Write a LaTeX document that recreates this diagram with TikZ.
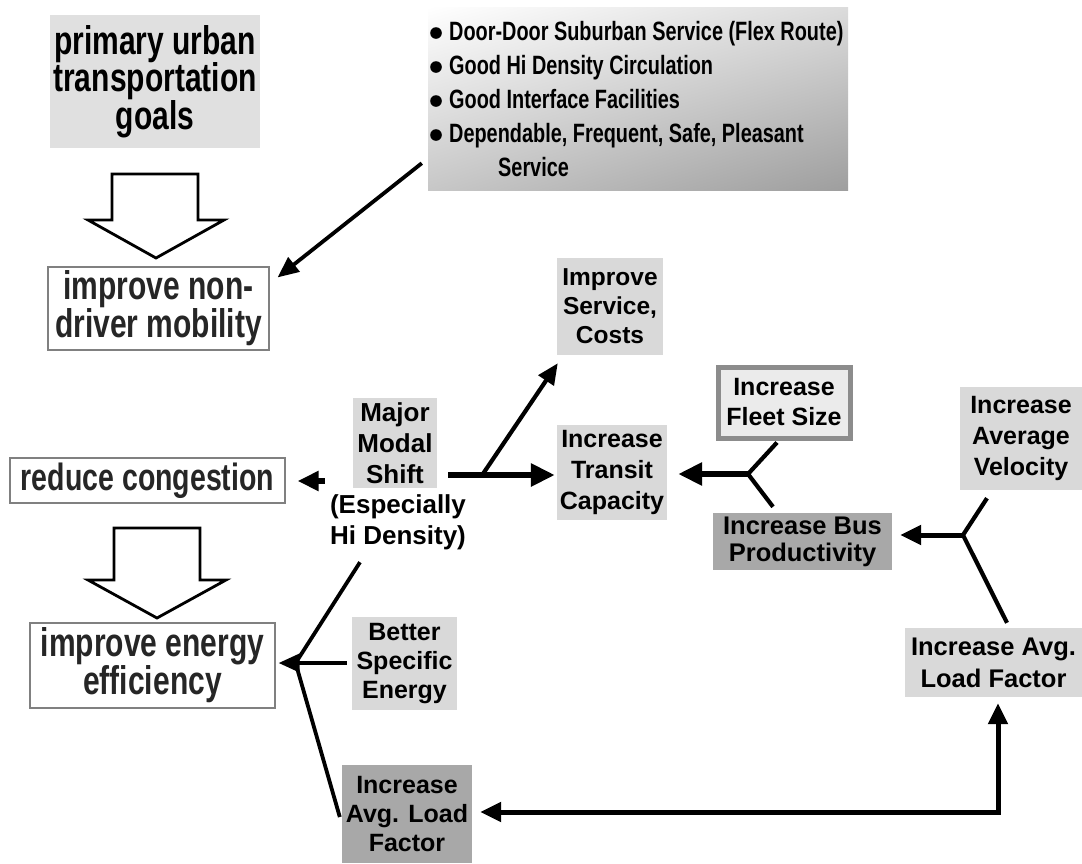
\documentclass[tikz,border=0pt]{standalone}
\usepackage{fontspec}
\setmainfont{Liberation Sans}
\newfontfamily\fcond{Liberation Sans}[FakeStretch=0.75]
\usetikzlibrary{arrows.meta,calc,shadings}
\newcommand\bulspace{\hspace*{22pt}}
\begin{document}
\begin{tikzpicture}[x=1pt,y=-1pt,
  box/.style={rectangle, inner sep=0pt, align=center, text=black,
    font=\bfseries\fontsize{25}{30}\selectfont},
  light/.style={box, fill=black!15},
  dark/.style={box, fill=black!34},
  plain/.style={box, draw=black!50, line width=1.2pt, fill=white,
    font=\fcond\bfseries\fontsize{40}{38}\selectfont, text=black!85},
  hollow/.style={draw=black, line width=2.8pt, line join=miter, fill=white},
  bulletdot/.style={fill=black},
  thickarrow/.style={line width=6.5pt, -{Triangle[length=24pt,width=22pt]}},
  midarrow/.style={line width=5pt, -{Triangle[length=21pt,width=19pt]}},
  thinarrow/.style={line width=3.8pt, -{Triangle[length=21pt,width=18pt]}},
  thinline/.style={line width=3.8pt},
  armline/.style={line width=4.2pt},
  fbarrow/.style={line width=5pt, {Triangle[length=21pt,width=19pt]}-{Triangle[length=21pt,width=19pt]}}
]
\useasboundingbox (0,0) rectangle (1082,863);
\fill[white] (0,0) rectangle (1082,863);

% top-left goals
\node[box, fill=black!12, minimum width=210pt, minimum height=133pt,
  font=\fcond\bfseries\fontsize{40}{37.5}\selectfont] (goals) at (155,81.5)
  {primary urban\\transportation\\goals};

% bullet list box
\shade[upper left=white, upper right=black!14, lower left=black!22, lower right=black!38]
  (428,7) rectangle (848,190);
\node[rectangle, inner sep=0pt, minimum width=420pt, minimum height=183pt] (bulletbox) at (638,98.5) {};
\node[anchor=west, inner sep=0pt, align=left,
  font=\fcond\bfseries\fontsize{26.5}{34}\selectfont] (bullettext) at (427,99)
  {\bulspace Door-Door Suburban Service (Flex Route)\\
   \bulspace Good Hi Density Circulation\\
   \bulspace Good Interface Facilities\\
   \bulspace Dependable, Frequent, Safe, Pleasant\\
   \hspace*{71pt}Service};
\foreach \yy in {33,67,101,135} \fill[bulletdot] (436,\yy) circle (5.8pt);

% improve non-driver mobility
\node[plain, minimum width=221pt, minimum height=83pt] (nondriver) at (158.5,308.5)
  {improve non-\\driver mobility};

% hollow arrow 1
\draw[hollow] (112,174) -- (198,174) -- (198,220) -- (224,220) -- (156,258)
  -- (88,220) -- (112,220) -- cycle;

% arrow from bullet box
\draw[thinarrow] ($(bulletbox.south west)+(-6,-27)$) -- ($(nondriver.north east)+(8,11)$);

% middle boxes
\node[light, minimum width=106pt, minimum height=97pt, font=\bfseries\fontsize{24.5}{29}\selectfont] (svc) at (610,306.5)
  {Improve\\Service,\\Costs};
\node[light, minimum width=84pt, minimum height=90pt, font=\bfseries\fontsize{26}{31}\selectfont] (major) at (395,443)
  {Major\\Modal\\Shift};
\node[box, font=\bfseries\fontsize{26}{31}\selectfont] (majorsub) at (398,522)
  {(Especially\\Hi Density)};
\node[light, minimum width=110pt, minimum height=95pt, font=\bfseries\fontsize{25}{31}\selectfont] (transit) at (612,472.5)
  {Increase\\Transit\\Capacity};
\node[box, fill=black!8, draw=black!45, line width=5pt, minimum width=132pt, minimum height=71pt,
  font=\bfseries\fontsize{25}{30}\selectfont] (fleet) at (784,402.5)
  {Increase\\Fleet Size};
\node[dark, minimum width=179pt, minimum height=57pt, font=\bfseries\fontsize{25.5}{27}\selectfont] (bus) at (802.5,541.5)
  {Increase Bus\\Productivity};
\node[light, minimum width=122pt, minimum height=103pt, font=\bfseries\fontsize{25}{31}\selectfont] (vel) at (1021,438.5)
  {Increase\\Average\\Velocity};
\node[light, minimum width=177pt, minimum height=69pt, font=\bfseries\fontsize{25.5}{32}\selectfont] (loadR) at (993.5,662.5)
  {Increase Avg.\\Load Factor};

% left column
\node[plain, minimum width=275pt, minimum height=45pt, font=\fcond\bfseries\fontsize{38}{38}\selectfont] (reduce) at (147.5,480.5)
  {reduce congestion};
\draw[hollow] (114,528) -- (200,528) -- (200,580) -- (226,580) -- (157,618)
  -- (88,580) -- (114,580) -- cycle;
\node[plain, minimum width=245pt, minimum height=85pt] (energy) at (152.5,665.5)
  {improve energy\\efficiency};

\node[light, minimum width=105pt, minimum height=93pt, font=\bfseries\fontsize{25}{29}\selectfont] (better) at (404.5,663.5)
  {Better\\Specific\\Energy};
\node[dark, minimum width=130pt, minimum height=98pt, font=\bfseries\fontsize{25}{29}\selectfont] (loadL) at (407,814)
  {Increase\\Avg. Load\\Factor};

% connectors from Major Modal Shift
\coordinate (jm) at ($(major.east)+(45,32)$);
\draw[thickarrow] ($(major.east)+(11,32)$) -- ($(transit.west)+(-2,2.5)$);
\draw[thinarrow, line width=4.2pt] (jm) -- ($(svc.south west)+(1,8)$);
\draw[midarrow, line width=5.5pt] ($(major.west)+(-28,38)$) -- ($(reduce.east)+(12,0.5)$);

% Y junction 1
\coordinate (y1) at (748,474);
\draw[armline, line join=miter] ($(fleet.south)+(-7,2)$) -- (y1) -- ($(bus.north)+(-29.5,-6)$);
\draw[thickarrow] (y1) -- ($(transit.east)+(11,1.5)$);

% Y junction 2
\coordinate (y2) at (963,535);
\draw[armline, line join=miter] ($(vel.south)+(-34,8)$) -- (y2) -- ($(loadR.north)+(13.5,-5)$);
\draw[midarrow] (y2) -- ($(bus.east)+(8,-6.5)$);

% feedback loop
\draw[fbarrow] ($(loadL.east)+(8,-2)$) -| ($(loadR.south)+(4.5,6)$);

% into energy efficiency
\coordinate (jE) at ($(energy.east)+(20,-2.5)$);
\coordinate (m1) at ($(major.south)+(-35,74)$);
\draw[thinarrow] ($(better.west)+(-5,-0.5)$) -- ($(energy.east)+(3,-2.5)$);
\draw[thinline] (m1) -- (jE);
\draw[thinline] ($(loadL.west)+(-2,3)$) -- (jE);
\end{tikzpicture}
\end{document}
